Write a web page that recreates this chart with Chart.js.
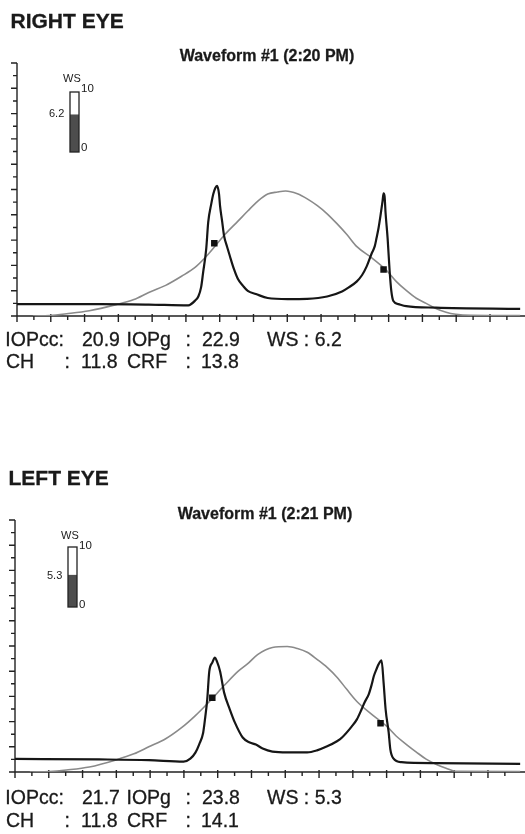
<!DOCTYPE html>
<html><head><meta charset="utf-8">
<script src="https://cdn.jsdelivr.net/npm/chart.js@4/dist/chart.umd.min.js"></script>
<style>
html,body{margin:0;padding:0;background:#fff;}
body{width:525px;height:834px;position:relative;overflow:hidden;font-family:"Liberation Sans",Arial,sans-serif;color:#1a1a1a;}
canvas{position:absolute;}
.t{position:absolute;white-space:pre;line-height:1;-webkit-text-stroke:0.3px #1a1a1a;}
</style></head><body>
<canvas id="c1" width="525" height="417" style="left:0;top:0;width:525px;height:417px"></canvas>
<canvas id="c2" width="525" height="417" style="left:0;top:417px;width:525px;height:417px"></canvas>
<canvas id="g1" width="13" height="64" style="left:68px;top:90px;width:13px;height:64px"></canvas>
<canvas id="g2" width="13" height="64" style="left:66px;top:545px;width:13px;height:64px"></canvas>
<script>
// ---------- data (x: time in major-tick units, y: amplitude in major-tick units) ----------
const rightTitle = "RIGHT EYE";
const leftTitle = "LEFT EYE";
const rightWaveTitle = "Waveform #1 (2:20 PM)";
const leftWaveTitle = "Waveform #1 (2:21 PM)";

const rightSignal = [[0,0.47],[2.43,0.47],[3.90,0.45],[5.07,0.42],[5.28,0.62],[5.37,0.78],[5.45,1.14],[5.51,1.73],[5.60,2.64],[5.66,3.71],[5.75,4.43],[5.81,4.82],[5.87,5.06],[5.92,5.14],[5.98,4.82],[6.01,4.35],[6.07,3.76],[6.13,3.16],[6.22,2.73],[6.30,2.37],[6.42,1.86],[6.54,1.46],[6.69,1.19],[6.83,0.99],[7.07,0.87],[7.42,0.71],[8.01,0.67],[8.59,0.68],[9.18,0.77],[9.62,0.97],[9.82,1.13],[10.06,1.37],[10.21,1.61],[10.35,1.96],[10.50,2.48],[10.59,2.76],[10.64,3.07],[10.70,3.47],[10.76,3.98],[10.82,4.54],[10.85,4.85],[10.88,4.73],[10.91,4.06],[10.97,3.07],[11.03,1.77],[11.08,0.98],[11.14,0.59],[11.29,0.47],[11.52,0.39],[12.40,0.33],[14.90,0.28]];
const rightPressure = [[0.47,0.00],[0.97,0.02],[1.47,0.09],[2.14,0.21],[2.93,0.45],[3.46,0.65],[3.90,0.93],[4.40,1.21],[4.87,1.57],[5.28,1.93],[5.66,2.44],[6.16,3.23],[6.54,3.75],[6.83,4.15],[7.13,4.54],[7.42,4.82],[7.71,4.90],[7.95,4.94],[8.30,4.83],[8.59,4.63],[8.89,4.36],[9.18,4.04],[9.47,3.65],[9.77,3.21],[10.06,2.74],[10.50,2.30],[10.94,1.80],[11.23,1.36],[11.52,1.01],[11.82,0.70],[12.11,0.50],[12.40,0.30],[12.70,0.15],[12.99,0.07],[13.43,0.03],[14.90,0.02]];
const rightMarks = [[5.84,2.88],[10.85,1.84]];

const leftSignal = [[0,0.52],[2.49,0.50],[3.96,0.47],[4.99,0.41],[5.19,0.53],[5.34,0.77],[5.45,1.09],[5.57,1.56],[5.63,2.16],[5.69,2.87],[5.75,3.98],[5.84,4.34],[5.92,4.54],[5.98,4.38],[6.07,4.00],[6.19,3.15],[6.36,2.48],[6.51,1.96],[6.74,1.37],[6.95,1.17],[7.13,1.09],[7.33,0.93],[7.62,0.81],[8.06,0.78],[8.65,0.78],[8.94,0.86],[9.24,1.02],[9.53,1.22],[9.68,1.37],[9.97,1.81],[10.12,2.09],[10.26,2.49],[10.35,2.77],[10.47,3.08],[10.56,3.48],[10.62,3.80],[10.70,4.08],[10.76,4.27],[10.85,4.43],[10.91,3.56],[10.97,2.49],[11.06,1.58],[11.11,0.90],[11.20,0.54],[11.44,0.39],[12.46,0.35],[14.96,0.32]];
const leftPressure = [[0.44,0.00],[1.03,0.02],[1.52,0.08],[2.20,0.20],[2.99,0.48],[3.52,0.72],[3.96,1.00],[4.46,1.32],[4.93,1.76],[5.34,2.24],[5.72,2.75],[6.22,3.47],[6.60,3.99],[6.89,4.30],[7.18,4.66],[7.62,4.94],[8.06,4.98],[8.36,4.90],[8.65,4.75],[8.94,4.47],[9.24,4.15],[9.53,3.76],[9.82,3.28],[10.12,2.80],[10.56,2.29],[11.00,1.82],[11.29,1.42],[11.58,1.10],[11.88,0.79],[12.17,0.51],[12.46,0.31],[12.76,0.15],[13.05,0.03],[14.96,0.02]];
const leftMarks = [[5.84,2.95],[10.82,1.93]];

const rightWS = 6.2;
const leftWS = 5.3;
const gaugeMax = 10;

const rightLine1 = ["IOPcc:", "20.9", "IOPg", ":", "22.9", "WS : 6.2"];
const rightLine2 = ["CH", ":", "11.8", "CRF", ":", "13.8"];
const leftLine1 = ["IOPcc:", "21.7", "IOPg", ":", "23.8", "WS : 5.3"];
const leftLine2 = ["CH", ":", "11.8", "CRF", ":", "14.1"];

const yMax = 10;
const tickStep = 0.5;

// ---------- drawing ----------
const axesPlugin = {
  id: 'eyeAxes',
  beforeDatasetsDraw(chart) {
    const ctx = chart.ctx, xs = chart.scales.x, ys = chart.scales.y;
    const x0 = xs.getPixelForValue(0), y0 = ys.getPixelForValue(0), yTop = ys.getPixelForValue(yMax);
    ctx.save();
    ctx.strokeStyle = '#222';
    ctx.lineWidth = 1.4;
    ctx.beginPath();
    ctx.moveTo(x0 - 5, y0); ctx.lineTo(chart.width, y0);
    ctx.moveTo(x0, y0 + 6); ctx.lineTo(x0, yTop);
    for (let i = 0; i * tickStep <= yMax + 1e-9; i++) {
      const y = ys.getPixelForValue(i * tickStep);
      const major = i % 2 === 0;
      ctx.moveTo(x0 - (major ? 6 : 4), y); ctx.lineTo(x0, y);
    }
    for (let i = 1; i * tickStep <= xs.max + 1e-9; i++) {
      const x = xs.getPixelForValue(i * tickStep);
      const major = i % 2 === 0;
      ctx.moveTo(x, y0 - (major ? 2 : 0)); ctx.lineTo(x, y0 + (major ? 6 : 4));
    }
    ctx.stroke();
    ctx.restore();
  }
};

function pts(a) { return a.map(p => ({x: p[0], y: p[1]})); }

function makeChart(id, padding, xMax, signal, pressure, marks) {
  return new Chart(document.getElementById(id), {
    type: 'scatter',
    data: { datasets: [
      { data: pts(marks), showLine: false, pointStyle: 'rect', pointRadius: 4.6,
        backgroundColor: '#111', borderColor: '#111', borderWidth: 0, order: 1 },
      { data: pts(signal), showLine: true, borderColor: '#161616', borderWidth: 2.2,
        pointRadius: 0, cubicInterpolationMode: 'monotone', order: 2 },
      { data: pts(pressure), showLine: true, borderColor: '#8a8a8a', borderWidth: 1.6,
        pointRadius: 0, cubicInterpolationMode: 'monotone', order: 3 }
    ]},
    options: {
      responsive: false, animation: false, events: [],
      layout: { padding },
      plugins: { legend: { display: false }, tooltip: { enabled: false } },
      scales: {
        x: { type: 'linear', min: 0, max: xMax, display: false },
        y: { type: 'linear', min: 0, max: yMax, display: false }
      }
    },
    plugins: [axesPlugin]
  });
}

const gaugeFrame = {
  id: 'gaugeFrame',
  afterDatasetsDraw(chart) {
    const a = chart.chartArea, ctx = chart.ctx;
    ctx.save();
    ctx.strokeStyle = '#222'; ctx.lineWidth = 1.3;
    ctx.strokeRect(a.left, a.top, a.right - a.left, a.bottom - a.top);
    ctx.restore();
  }
};

function makeGauge(id, value) {
  return new Chart(document.getElementById(id), {
    type: 'bar',
    data: { labels: ['WS'], datasets: [{ data: [value], backgroundColor: '#4d4d4d',
      barPercentage: 1, categoryPercentage: 1, borderWidth: 0 }] },
    options: {
      responsive: false, animation: false, events: [],
      layout: { padding: 2 },
      plugins: { legend: { display: false }, tooltip: { enabled: false } },
      scales: { x: { display: false }, y: { display: false, min: 0, max: gaugeMax } }
    },
    plugins: [gaugeFrame]
  });
}

// chart 1: area x 17..525, y 63..316 ; chart 2 (canvas at 417): area x 15..525, y 520..772
makeChart('c1', {left: 17, right: 0, top: 63, bottom: 417 - 316}, 14.90, rightSignal, rightPressure, rightMarks);
makeChart('c2', {left: 15, right: 0, top: 520 - 417, bottom: 834 - 772}, 14.96, leftSignal, leftPressure, leftMarks);
makeGauge('g1', rightWS);
makeGauge('g2', leftWS);

// ---------- text ----------
function addText(str, left, capCenter, size, weight, extra) {
  const d = document.createElement('div');
  d.className = 't';
  d.textContent = str;
  d.style.left = left + 'px';
  d.style.top = (capCenter - 0.49 * size) + 'px';
  d.style.fontSize = size + 'px';
  d.style.fontWeight = weight || 'normal';
  if (extra) Object.assign(d.style, extra);
  document.body.appendChild(d);
  return d;
}

addText(rightTitle, 10.5, 20.5, 21, 'bold');
addText(leftTitle, 8.5, 477.5, 21, 'bold');
addText(rightWaveTitle, 67, 56, 16, 'bold', {width: '400px', textAlign: 'center'});
addText(leftWaveTitle, 65, 514, 16, 'bold', {width: '400px', textAlign: 'center'});

const line1X = [5.3, 82, 126.5, 185.5, 202, 267];
const line2X = [6, 64.5, 81, 127, 185.5, 201];
function infoBlock(l1, l2, y1, y2) {
  l1.forEach((s, i) => addText(s, line1X[i], y1, 19.5));
  l2.forEach((s, i) => addText(s, line2X[i], y2, 19.5));
}
infoBlock(rightLine1, rightLine2, 340, 362);
infoBlock(leftLine1, leftLine2, 798, 821);

function gaugeLabels(dy, dx, val) {
  const small = {webkitTextStroke: '0px'};
  addText('WS', 63 + dx, 78 + dy, 11, 'normal', small);
  addText('10', 81 + dx, 89 + dy, 11.5, 'normal', small);
  addText(String(val), 49 + dx, 113 + dy + (rightWS - val) * 6, 11, 'normal', small);
  addText('0', 81 + dx, 148 + dy, 11.5, 'normal', small);
}
gaugeLabels(0, 0, rightWS);
gaugeLabels(457, -2, leftWS);
</script>
</body></html>
